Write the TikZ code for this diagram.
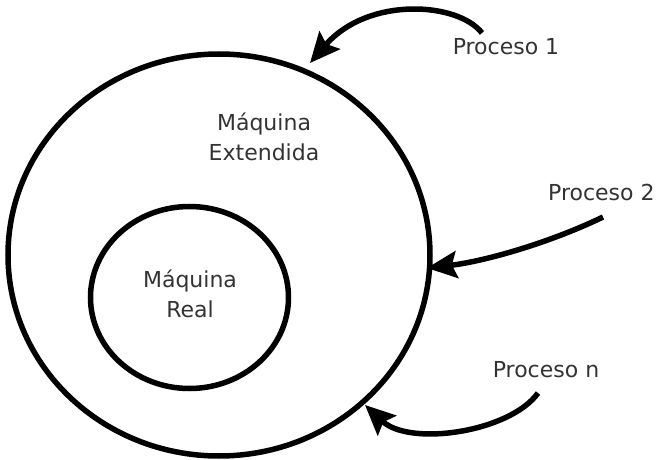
\documentclass[tikz,border=0pt]{standalone}
\usepackage{fontspec}
\setmainfont{DejaVu Sans}
\usetikzlibrary{arrows.meta,shapes.geometric}
\begin{document}
\begin{tikzpicture}[x=1pt,y=-1pt,
  ring/.style={draw=black, ellipse, line width=5.5pt, inner sep=0pt},
  lbl/.style={text=black!80, font=\fontsize{22}{30}\selectfont, align=center, inner sep=0pt},
  proc/.style={line width=5.5pt, -{Stealth[length=30pt,width=27pt,inset=5pt]}}]
\useasboundingbox (0,0) rectangle (657,460);
\node[ring, minimum width=422pt, minimum height=402pt] (outer) at (219,255) {};
\node[ring, minimum width=198pt, minimum height=182pt] (inner) at (189.5,297.5) {};
\node[lbl] (ext) at (264,137) {Máquina\\Extendida};
\node[lbl] (real) at (190,294) {Máquina\\Real};
\node[lbl] (p1) at (506,47) {Proceso 1};
\node[lbl, anchor=west] (p2) at (548,192) {Proceso 2};
\node[lbl] (pn) at (546,370) {Proceso n};
\coordinate (s1) at (482,33);
\coordinate (t1) at (310,63);
\coordinate (s2) at (603,217);
\coordinate (t2) at (427,268);
\coordinate (sn) at (538,393);
\coordinate (tn) at (365,405);
\draw[proc] (s1) .. controls (458,2) and (368,-4) .. (t1);
\draw[proc] (s2) .. controls (545,245) and (480,262) .. (t2);
\draw[proc] (sn) .. controls (510,432) and (410,447) .. (tn);
\end{tikzpicture}
\end{document}
